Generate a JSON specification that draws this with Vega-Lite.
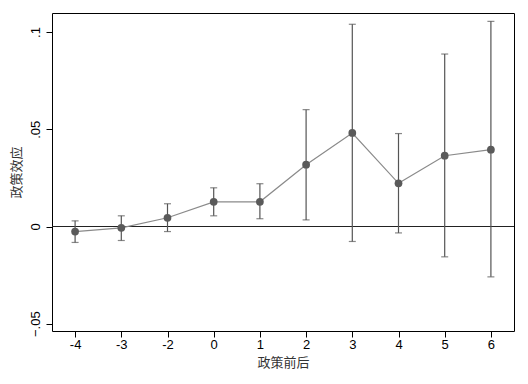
{
  "$schema": "https://vega.github.io/schema/vega-lite/v6.json",
  "autosize": "none",
  "width": 462,
  "height": 318,
  "padding": {"left": 52, "top": 13, "right": 14, "bottom": 53},
  "background": "white",
  "config": {
    "view": {"stroke": "#000000", "strokeWidth": 1},
    "font": "Liberation Sans"
  },
  "data": {
    "values": [
      {"t": "-4", "b": -0.0026, "lo": -0.0082, "hi": 0.0029},
      {"t": "-3", "b": -0.0007, "lo": -0.0072, "hi": 0.0055},
      {"t": "-2", "b": 0.0045, "lo": -0.0026, "hi": 0.0117},
      {"t": "0", "b": 0.0127, "lo": 0.0055, "hi": 0.0199},
      {"t": "1", "b": 0.0127, "lo": 0.0040, "hi": 0.0220},
      {"t": "2", "b": 0.0318, "lo": 0.0034, "hi": 0.0601},
      {"t": "3", "b": 0.0481, "lo": -0.0077, "hi": 0.1040},
      {"t": "4", "b": 0.0222, "lo": -0.0033, "hi": 0.0478},
      {"t": "5", "b": 0.0364, "lo": -0.0156, "hi": 0.0887},
      {"t": "6", "b": 0.0395, "lo": -0.0259, "hi": 0.1055}
    ]
  },
  "encoding": {
    "x": {
      "field": "t", "type": "ordinal",
      "sort": ["-4", "-3", "-2", "0", "1", "2", "3", "4", "5", "6"],
      "scale": {"type": "point", "padding": 0.5},
      "axis": {
        "title": "政策前后", "titleFont": "Noto Sans CJK SC", "titleFontSize": 13, "titleFontWeight": "normal", "titleColor": "#333333", "titlePadding": 5,
        "labelAngle": 0, "labelFontSize": 13, "labelColor": "#000000", "labelPadding": 1,
        "tickSize": 6, "tickColor": "#000000", "domain": false, "grid": false
      }
    }
  },
  "layer": [
    {
      "mark": {"type": "rule", "color": "#222222", "strokeWidth": 1},
      "encoding": {"x": null, "y": {"datum": 0, "type": "quantitative"}}
    },
    {
      "mark": {"type": "rule", "color": "#555555", "strokeWidth": 1.2},
      "encoding": {
        "y": {
          "field": "lo", "type": "quantitative",
          "scale": {"domain": [-0.05374, 0.1098], "nice": false, "zero": false},
          "axis": {
            "title": "政策效应", "titleFont": "Noto Sans CJK SC", "titleFontSize": 13, "titleFontWeight": "normal", "titleColor": "#333333", "titlePadding": 6,
            "values": [-0.05, 0, 0.05, 0.1],
            "labelExpr": "datum.value == 0 ? '0' : replace(format(datum.value, '~g'), '0.', '.')",
            "labelAngle": -90, "labelFontSize": 13, "labelColor": "#000000", "labelPadding": 4,
            "tickSize": 6, "tickColor": "#000000", "domain": false, "grid": false
          }
        },
        "y2": {"field": "hi"}
      }
    },
    {
      "mark": {"type": "tick", "orient": "horizontal", "color": "#555555", "size": 7, "thickness": 1.2},
      "encoding": {"y": {"field": "lo", "type": "quantitative"}}
    },
    {
      "mark": {"type": "tick", "orient": "horizontal", "color": "#555555", "size": 7, "thickness": 1.2},
      "encoding": {"y": {"field": "hi", "type": "quantitative"}}
    },
    {
      "mark": {"type": "line", "color": "#8a8a8a", "strokeWidth": 1.2},
      "encoding": {"y": {"field": "b", "type": "quantitative"}}
    },
    {
      "mark": {"type": "point", "filled": true, "color": "#5a5a5a", "opacity": 1, "size": 60},
      "encoding": {"y": {"field": "b", "type": "quantitative"}}
    }
  ]
}
